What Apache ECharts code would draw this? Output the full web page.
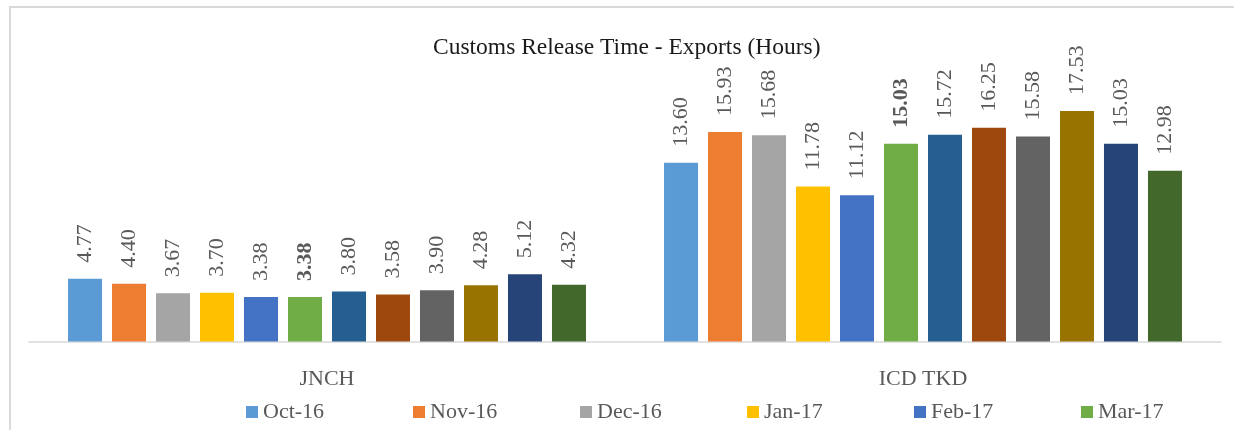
<!DOCTYPE html>
<html>
<head>
<meta charset="utf-8">
<script src="https://cdn.jsdelivr.net/npm/echarts@6/dist/echarts.min.js"></script>
<style>
html,body{margin:0;padding:0;background:#fff;}
#frame{position:absolute;left:9px;top:6px;width:1240px;height:440px;border-left:2.5px solid #d9d9d9;border-top:2.5px solid #d9d9d9;box-sizing:border-box;}
#chart{position:absolute;left:0;top:0;width:1234px;height:430px;}
</style>
</head>
<body>
<div id="frame"></div>
<div id="chart"></div>
<script>
const categories = ['JNCH', 'ICD TKD'];
const months = ['Oct-16','Nov-16','Dec-16','Jan-17','Feb-17','Mar-17','Apr-17','May-17','Jun-17','Jul-17','Aug-17','Sep-17'];
const jnch = [4.77, 4.40, 3.67, 3.70, 3.38, 3.38, 3.80, 3.58, 3.90, 4.28, 5.12, 4.32];
const icdTkd = [13.60, 15.93, 15.68, 11.78, 11.12, 15.03, 15.72, 16.25, 15.58, 17.53, 15.03, 12.98];
const colors = ['#5B9BD5','#ED7D31','#A5A5A5','#FFC000','#4472C4','#70AD47','#255E91','#9E480E','#636363','#997300','#264478','#43682B'];
const boldMonth = 'Mar-17';

const FONT = '"Liberation Serif", "DejaVu Serif", serif';
const chart = echarts.init(document.getElementById('chart'));

const series = months.map((m, i) => ({
  name: m,
  type: 'bar',
  data: [jnch[i], icdTkd[i]],
  barWidth: 34,
  barGap: '29.4%',
  itemStyle: { color: colors[i] },
  label: {
    show: true,
    position: 'top',
    rotate: 90,
    align: 'left',
    verticalAlign: 'middle',
    distance: 16,
    formatter: p => p.value.toFixed(2),
    fontFamily: FONT,
    fontSize: 22,
    fontWeight: m === boldMonth ? 'bold' : 'normal',
    color: '#595959'
  }
}));

// Excel-style fixed-column legend: 6 per row, second row falls outside the picture
const legends = months.map((m, i) => ({
  data: [m],
  left: 241 + (i % 6) * 167,
  top: i < 6 ? 396 : 438,
  itemWidth: 12,
  itemHeight: 12,
  itemGap: 5,
  icon: 'rect',
  textStyle: { fontFamily: FONT, fontSize: 22, color: '#595959' }
}));

chart.setOption({
  animation: false,
  color: colors,
  title: {
    text: 'Customs Release Time - Exports (Hours)',
    left: 428,
    top: 31,
    textStyle: { fontFamily: FONT, fontSize: 23.5, fontWeight: 'normal', color: '#1a1a1a' }
  },
  legend: legends,
  grid: { left: 29, right: 13, top: 78.5, bottom: 88.5, containLabel: false },
  xAxis: {
    type: 'category',
    data: categories,
    axisLine: { lineStyle: { color: '#d9d9d9', width: 1.5 } },
    axisTick: { show: false },
    axisLabel: { fontFamily: FONT, fontSize: 22, color: '#595959', margin: 27 }
  },
  yAxis: {
    type: 'value',
    min: 0,
    max: 20,
    show: false,
    splitLine: { show: false }
  },
  series: series
});
</script>
</body>
</html>
